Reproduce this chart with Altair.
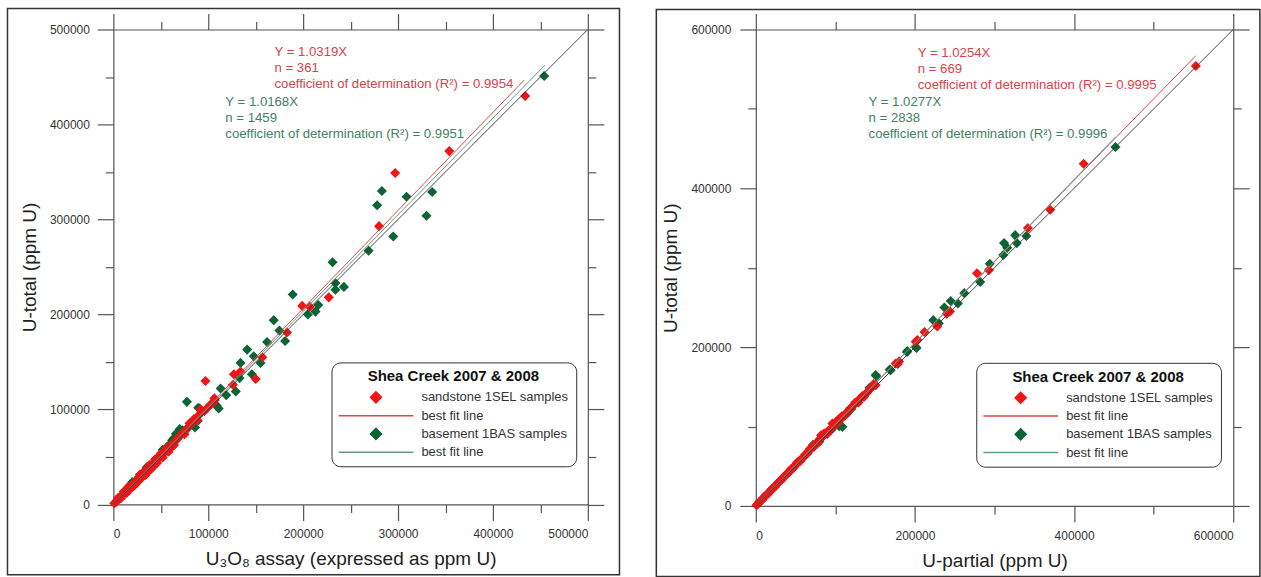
import altair as alt
import pandas as pd

FONT = "Liberation Sans"

RED_PT = "#f01414"
GREEN_PT = "#0b6433"
RED_LINE = "#d24a4a"
GREEN_LINE = "#5f9e8a"
RED_TXT = "#dc3f48"
GREEN_TXT = "#3f8262"

SERIES = ["sandstone 1SEL samples", "best fit line (1SEL)",
          "basement 1BAS samples", "best fit line (1BAS)"]

# ---------------- Left panel: U3O8 assay vs U-total ----------------
left_sel_x = [1000, 2500, 4000, 5500, 7000, 8500, 10000, 12000, 13500, 15000, 17000, 18000, 19000, 20000,
              21000, 23000, 24000, 25000, 26000, 27000, 29000, 30000, 31000, 32000, 33000, 35000, 36000,
              37000, 39000, 41000, 42000, 43000, 45000, 47000, 49000, 51000, 53000, 55000, 57000, 59000,
              60000, 62000, 63000, 66000, 68000, 70000, 73000, 75000, 76000, 80000, 80300, 84000, 85000,
              88000, 90000, 92000, 93000, 96000, 99000, 102000, 105000, 106500, 107000, 97000, 126000,
              127000, 134000, 150000, 157000, 183000, 199000, 207000, 227000, 280000, 297000, 354000, 434000,
              5000, 8000, 11000, 14000, 16000, 22000, 28000, 34000, 38000, 40000, 44000, 46000, 50000,
              52000, 56000, 58000, 64000]
left_sel_y = [1200, 2400, 4300, 5600, 7400, 8600, 10500, 12100, 14200, 15300, 17800, 16500, 19200, 18500,
              21900, 23400, 22300, 26100, 24500, 27300, 30200, 28200, 31400, 34500, 34300, 35500, 34000,
              38400, 39600, 42500, 40000, 43500, 46600, 47800, 50700, 51900, 54800, 56000, 58900, 60800,
              61300, 60800, 65000, 67400, 70000, 72000, 75300, 74000, 78000, 82500, 85400, 86700, 90000,
              88500, 94000, 100000, 97500, 98300, 101500, 104800, 106500, 111700, 110000, 130000, 126000,
              137000, 140000, 132000, 155000, 181000, 209000, 208000, 218000, 293000, 349000, 372000, 430000,
              7000, 6500, 13500, 12000, 19000, 20000, 31500, 31000, 41500, 37500, 47500, 43500, 53500,
              49500, 59500, 55500, 62500]
left_bas_x = [3000, 6000, 9000, 12000, 15000, 18000, 21000, 24000, 27000, 30000, 33000, 36000, 39000, 42000,
              45000, 48000, 51000, 54000, 56000, 58000, 60000, 62000, 64000, 66000, 68000, 70000, 72000,
              75000, 78000, 86000, 89000, 77500, 89400, 91000, 109000, 111000, 113000, 119000, 129000,
              133000, 134000, 141000, 146000, 148000, 155000, 162000, 169000, 175000, 181000, 189000,
              205000, 213000, 216000, 231000, 234000, 234000, 243000, 269000, 278000, 283000, 295000,
              309000, 330000, 336000, 454000,
              20000, 25000, 35000, 40000, 50000, 52000, 57000, 63000, 67000, 73000]
left_bas_y = [3300, 6500, 9500, 13000, 16200, 19500, 22000, 25800, 28500, 31000, 34600, 37000, 41000, 43000,
              47500, 49000, 54000, 55500, 58500, 56000, 63500, 67700, 70000, 74300, 72000, 79300, 76000,
              77400, 80000, 81000, 88000, 108000, 101800, 101000, 104000, 101000, 122000, 115000, 119000,
              133000, 149000, 163000, 137000, 156000, 149000, 171000, 194000, 183000, 172000, 221000,
              200000, 203000, 210000, 255000, 226000, 233000, 229000, 267000, 315000, 330000, 282000,
              324000, 304000, 329000, 451000,
              23500, 23000, 39000, 38000, 52000, 57500, 61000, 66000, 69000, 78000]
left_fit_sel_x = [0, 433000]
left_fit_sel_y = [0, 446800]
left_fit_bas_x = [0, 455000]
left_fit_bas_y = [0, 462600]
left_ref = [0, 500000]
left_ticks = [0, 50000, 100000, 150000, 200000, 250000, 300000, 350000, 400000, 450000, 500000]
left_text_sel = "Y = 1.0319X\nn = 361\ncoefficient of determination (R\u00b2) = 0.9954"
left_text_bas = "Y = 1.0168X\nn = 1459\ncoefficient of determination (R\u00b2) = 0.9951"
left_text_sel_at = [169800, 471600]
left_text_bas_at = [118000, 419600]

# ---------------- Right panel: U-partial vs U-total ----------------
right_sel_x = [1000, 3000, 5000, 7000, 9000, 11000, 13000, 15000, 17000, 19000, 21000, 23000, 25000, 27000,
               29000, 31000, 33000, 35000, 37000, 39000, 41000, 43000, 45000, 47000, 49000, 51000, 53000,
               55000, 57000, 60000, 63000, 66000, 68000, 70000, 73000, 75000, 78000, 81000, 82000, 85000,
               88000, 91000, 94000, 96300, 100000, 102500, 106000, 110000, 115000, 120000, 125000, 129000,
               132800, 136000, 140000, 148000, 150600, 175700, 178400, 180000, 201000, 203000, 212000,
               228000, 240000, 244000, 278000, 293000, 342000, 370000, 412000, 553000,
               4000, 8000, 12000, 16000, 20000, 24000, 28000, 32000, 36000, 40000, 44000, 48000, 52000,
               56000, 62000, 65000, 72000, 77000, 86000, 90000, 98000, 104000, 108000, 112000, 118000,
               122000, 127000, 134000, 138000, 144000]
right_sel_y = [1000, 3100, 5200, 7300, 9300, 11400, 13400, 15500, 17600, 19600, 21700, 23700, 25800, 27900,
               30000, 32000, 34100, 36100, 38200, 40300, 42300, 44300, 46500, 48500, 50700, 52400, 54800,
               56600, 58900, 61700, 65000, 68700, 72000, 72500, 74400, 78000, 81000, 85000, 89000, 88000,
               91000, 94500, 97000, 103700, 101500, 108000, 109000, 112500, 118000, 123500, 130200, 130300,
               137200, 137400, 143000, 153400, 152100, 179400, 178800, 182000, 206700, 209000, 219000,
               226000, 242000, 245000, 293000, 297000, 350000, 373000, 431000, 554000,
               4600, 7800, 12900, 16000, 21200, 24000, 29500, 32300, 37800, 40500, 46200, 48600, 55000,
               56600, 64500, 66000, 76000, 78500, 91500, 91000, 102000, 106000, 113000, 114000, 122000,
               126000, 131000, 138500, 141000, 148000]
right_bas_x = [2000, 10000, 20000, 30000, 45000, 60000, 72000, 80000, 95000, 104900, 108800, 115000, 115100,
               120000, 142900, 144300, 150600, 151500, 168300, 169400, 190000, 190400, 200800, 202000,
               223000, 230000, 237000, 245000, 254000, 262000, 282000, 294000, 311000, 312000, 316000,
               326000, 328000, 340000, 452000]
right_bas_y = [2000, 10500, 20600, 31000, 46000, 61500, 77100, 81000, 96000, 100300, 99600, 116400, 118500,
               122000, 148700, 147900, 164800, 163500, 171800, 171000, 194000, 195000, 200400, 199000,
               234000, 230000, 250000, 258000, 255000, 268000, 282000, 305000, 316000, 331000, 325000,
               341000, 331000, 340000, 452000]
right_fit_sel_x = [0, 553000]
right_fit_sel_y = [0, 567000]
right_fit_bas_x = [0, 452000]
right_fit_bas_y = [0, 464500]
right_ref = [0, 600000]
right_ticks = [0, 100000, 200000, 300000, 400000, 500000, 600000]
right_text_sel = "Y = 1.0254X\nn = 669\ncoefficient of determination (R\u00b2) = 0.9995"
right_text_bas = "Y = 1.0277X\nn = 2838\ncoefficient of determination (R\u00b2) = 0.9996"
right_text_sel_at = [203500, 565500]
right_text_bas_at = [141700, 504200]

DIAMOND = "M0,-0.175L0.175,0L0,0.175L-0.175,0Z"
BAR = "M-1,-0.02L1,-0.02L1,0.02L-1,0.02Z"


def panel(sel_x, sel_y, bas_x, bas_y, fsx, fsy, fbx, fby, ref, ticks, major,
          txt_sel, txt_sel_at, txt_bas, txt_bas_at, xtitle, w, h, leg_xy, frame, lab_pad):
    color_scale = alt.Scale(domain=SERIES, range=[RED_PT, RED_LINE, GREEN_PT, GREEN_LINE])
    shape_scale = alt.Scale(domain=SERIES, range=[DIAMOND, BAR, DIAMOND, BAR])
    xs = alt.Scale(domain=ref, nice=False, zero=False)
    ys = alt.Scale(domain=ref, nice=False, zero=False)
    tick_size = {"condition": {"test": f"datum.value % {major} === 0", "value": 16}, "value": 8}
    common = dict(values=ticks, tickSize=tick_size, grid=False, domainColor="#555", domainWidth=1.2,
                  tickColor="#555", tickWidth=1.2, labelFont=FONT, labelFontSize=12, labelColor="#333",
                  labelPadding=lab_pad, titleFont=FONT, titleFontSize=19, titleFontWeight="normal",
                  titleColor="#222", titlePadding=10,
                  labelExpr=f"datum.value % {major} === 0 ? '' + datum.value : ''")
    nolab = dict(values=ticks, tickSize=tick_size, grid=False, domainColor="#555", domainWidth=1.2,
                 tickColor="#555", tickWidth=1.2, labels=False, title="")

    legend = alt.Legend(
        title="Shea Creek 2007 & 2008", orient="none", legendX=leg_xy[0], legendY=leg_xy[1],
        titleFont=FONT, titleFontSize=15, titleFontWeight="bold", titleColor="#111",
        titleAnchor="middle", titlePadding=6,
        labelFont=FONT, labelFontSize=13, labelColor="#333", labelOffset=8, labelLimit=220,
        labelExpr="indexof(datum.label, 'best fit') === 0 ? 'best fit line' : datum.label",
        symbolSize=5625, symbolStrokeWidth=0, symbolOpacity=1, clipHeight=14, rowPadding=4.3,
        columns=1, padding=7, strokeColor="#333", cornerRadius=9, fillColor="white",
    )

    pts = pd.DataFrame({
        "x": bas_x + sel_x,
        "y": bas_y + sel_y,
        "series": [SERIES[2]] * len(bas_x) + [SERIES[0]] * len(sel_x),
    })
    points = alt.Chart(pts).mark_point(filled=True, size=3330, opacity=1).encode(
        x=alt.X("x:Q", scale=xs, axis=alt.Axis(orient="bottom", title=xtitle, **common)),
        y=alt.Y("y:Q", scale=ys, axis=alt.Axis(orient="left", title="U-total (ppm U)", **common)),
        color=alt.Color("series:N", scale=color_scale, legend=legend),
        shape=alt.Shape("series:N", scale=shape_scale, legend=legend),
    )

    fit = pd.DataFrame({
        "x": fsx + fbx,
        "y": fsy + fby,
        "series": [SERIES[1]] * len(fsx) + [SERIES[3]] * len(fbx),
    })
    fits = alt.Chart(fit).mark_line(strokeWidth=1).encode(
        x=alt.X("x:Q", scale=xs, axis=None),
        y=alt.Y("y:Q", scale=ys, axis=None),
        color=alt.Color("series:N", scale=color_scale, legend=None),
    )

    one = alt.Chart(pd.DataFrame({"x": ref, "y": ref})).mark_line(color="#333", strokeWidth=0.9).encode(
        x=alt.X("x:Q", scale=xs, axis=alt.Axis(orient="top", **nolab)),
        y=alt.Y("y:Q", scale=ys, axis=alt.Axis(orient="right", **nolab)),
    )

    def text_layer(txt, at, col):
        df = pd.DataFrame({"x": [at[0]], "y": [at[1]], "t": [txt]})
        return alt.Chart(df).mark_text(align="left", baseline="alphabetic", font=FONT, fontSize=13.2,
                                       lineBreak="\n", lineHeight=16, color=col).encode(
            x=alt.X("x:Q", scale=xs, axis=None),
            y=alt.Y("y:Q", scale=ys, axis=None),
            text="t:N",
        )

    frame_layer = alt.Chart(pd.DataFrame({"k": [0]})).mark_rect(
        filled=False, stroke="#333", strokeWidth=1.5).encode(
        x=alt.value(frame[0]), x2=alt.value(frame[1]), y=alt.value(frame[2]), y2=alt.value(frame[3]))

    return alt.layer(
        points, fits, one,
        text_layer(txt_sel, txt_sel_at, RED_TXT),
        text_layer(txt_bas, txt_bas_at, GREEN_TXT),
        frame_layer,
    ).resolve_axis(x="independent", y="independent").properties(width=w, height=h)


left = panel(left_sel_x, left_sel_y, left_bas_x, left_bas_y,
             left_fit_sel_x, left_fit_sel_y, left_fit_bas_x, left_fit_bas_y,
             left_ref, left_ticks, 100000,
             left_text_sel, left_text_sel_at, left_text_bas, left_text_bas_at,
             "U\u2083O\u2088 assay (expressed as ppm U)", 475, 475.5, (218.4, 333.3),
             (-106, 506.7, -21, 546), 8)

right = panel(right_sel_x, right_sel_y, right_bas_x, right_bas_y,
              right_fit_sel_x, right_fit_sel_y, right_fit_bas_x, right_fit_bas_y,
              right_ref, right_ticks, 200000,
              right_text_sel, right_text_sel_at, right_text_bas, right_text_bas_at,
              "U-partial (ppm U)", 478, 477, (220.7, 333.7),
              (-99.6, 504.7, -20, 547.7), 9)

chart = alt.hconcat(left, right, spacing=34.2).resolve_scale(
    color="independent", shape="independent"
).resolve_legend(
    color="independent", shape="independent"
).properties(
    padding={"left": 6.5, "top": 7.2, "right": 0, "bottom": 0},
    background="white",
).configure_view(strokeWidth=0)

chart.save("out.html", embed_options={"renderer": "svg", "actions": False})
